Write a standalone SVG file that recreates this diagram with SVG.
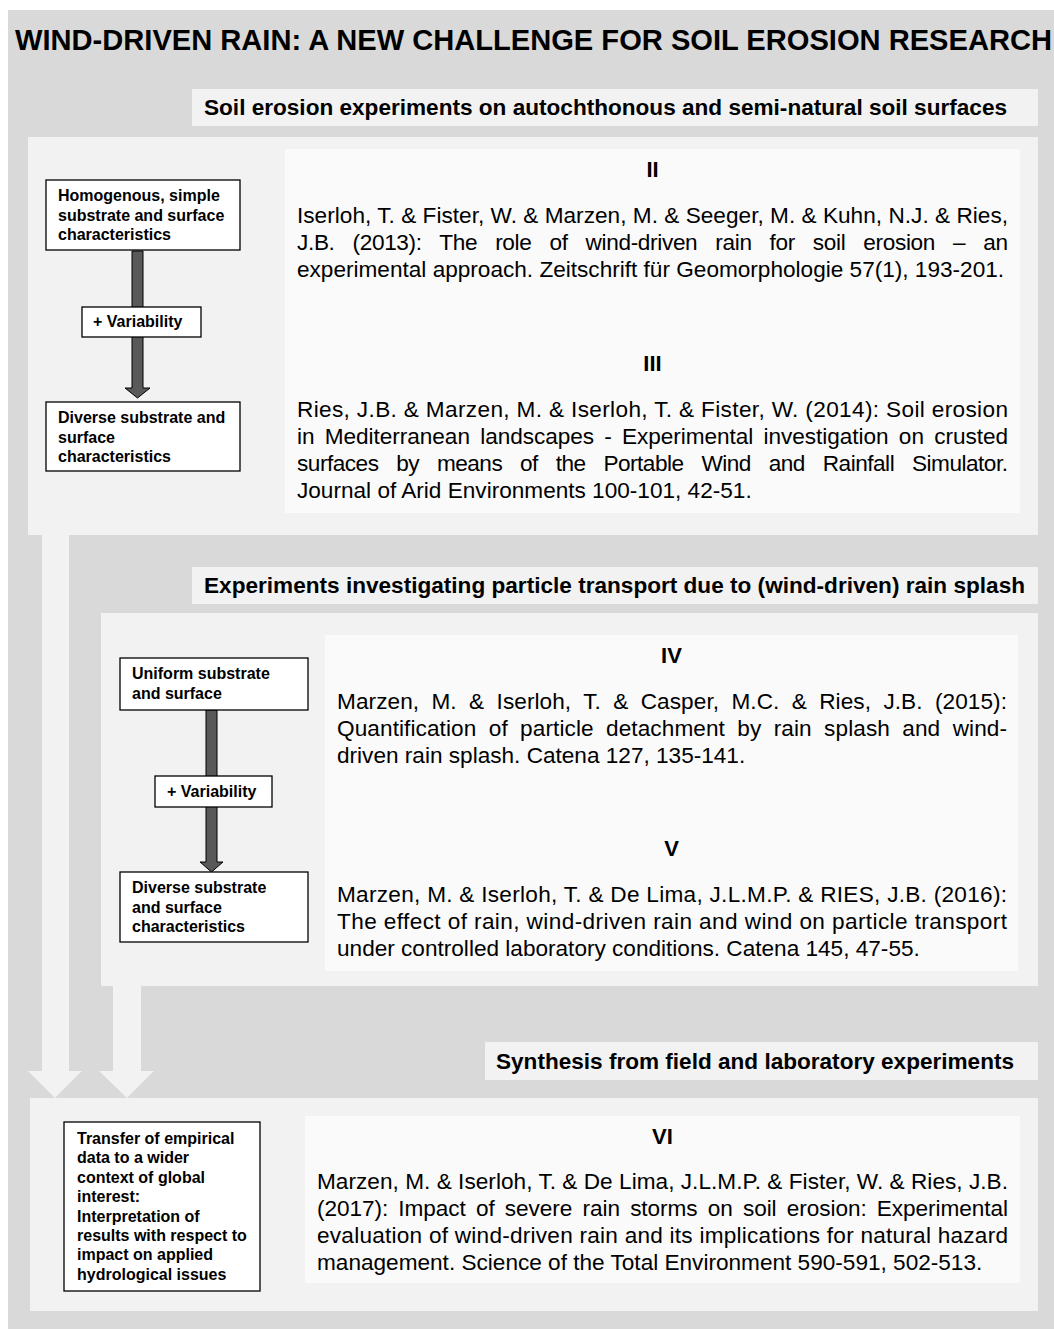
<svg xmlns="http://www.w3.org/2000/svg" width="1054" height="1329" viewBox="0 0 1054 1329">
<style>
.bg{fill:#d9d9d9}
.panel{fill:#f2f2f2}
.cite{fill:#fafafa}
.hdr{fill:#f2f2f2}
.box{fill:#ffffff;stroke:#000000;stroke-width:1.3}
.title{font-family:"Liberation Sans",Arial,sans-serif;font-weight:bold;font-size:29px;fill:#000}
.h{font-family:"Liberation Sans",Arial,sans-serif;font-weight:bold;font-size:22.5px;fill:#000}
.num{font-family:"Liberation Sans",Arial,sans-serif;font-weight:bold;font-size:22px;fill:#000;text-anchor:middle}
.c{font-family:"Liberation Sans",Arial,sans-serif;font-size:22.6px;fill:#000}
.b{font-family:"Liberation Sans",Arial,sans-serif;font-weight:bold;font-size:16px;fill:#000}
.dark{fill:#595959;stroke:#000;stroke-width:1}
.light{fill:#f2f2f2}
</style>
<rect class="bg" x="8" y="10" width="1046" height="1319"/>
<text class="title" x="15" y="50" textLength="1037" lengthAdjust="spacingAndGlyphs">WIND-DRIVEN RAIN: A NEW CHALLENGE FOR SOIL EROSION RESEARCH</text>

<g id="panel1">
<rect class="hdr" x="192" y="89" width="846" height="37"/>
<text class="h" x="204" y="115" textLength="803" lengthAdjust="spacingAndGlyphs">Soil erosion experiments on autochthonous and semi-natural soil surfaces</text>
<rect class="panel" x="28" y="137" width="1010" height="398"/>
</g>

<g id="panel2">
<rect class="hdr" x="192" y="567" width="846" height="37"/>
<text class="h" x="204" y="593" textLength="821" lengthAdjust="spacingAndGlyphs">Experiments investigating particle transport due to (wind-driven) rain splash</text>
<rect class="panel" x="101" y="613" width="937" height="373"/>
</g>

<g id="panel3">
<rect class="hdr" x="485" y="1042" width="553" height="38"/>
<text class="h" x="496" y="1069" textLength="518" lengthAdjust="spacingAndGlyphs">Synthesis from field and laboratory experiments</text>
<rect class="panel" x="30" y="1098" width="1008" height="213"/>
</g>

<g id="connectors">
<polygon class="light" points="42,535 69,535 69,1071 82,1071 55,1098 28,1071 42,1071"/>
<polygon class="light" points="113,985 141,985 141,1071 154,1071 127,1098 99,1071 113,1071"/>
<polygon class="dark" points="132,251 143,251 143,388 150,388 137.5,398 125,388 132,388"/>
<polygon class="dark" points="206,710 217,710 217,862 223,862 211.5,872 200,862 206,862"/>
</g>

<g id="citeII-III">
<rect class="cite" x="285" y="149" width="735" height="364"/>
<text class="num" x="652.5" y="177">II</text>
<text class="c" x="297" y="223" textLength="711" lengthAdjust="spacing">Iserloh, T. &amp; Fister, W. &amp; Marzen, M. &amp; Seeger, M. &amp; Kuhn, N.J. &amp; Ries,</text>
<text class="c" x="297" y="250" textLength="711" lengthAdjust="spacing" word-spacing="12">J.B. (2013): The role of wind-driven rain for soil erosion – an</text>
<text class="c" x="297" y="277">experimental approach. Zeitschrift für Geomorphologie 57(1), 193-201.</text>
<text class="num" x="652.5" y="371">III</text>
<text class="c" x="297" y="417" textLength="711" lengthAdjust="spacing">Ries, J.B. &amp; Marzen, M. &amp; Iserloh, T. &amp; Fister, W. (2014): Soil erosion</text>
<text class="c" x="297" y="444" textLength="711" lengthAdjust="spacing" word-spacing="4">in Mediterranean landscapes - Experimental investigation on crusted</text>
<text class="c" x="297" y="471" textLength="711" lengthAdjust="spacing" word-spacing="12">surfaces by means of the Portable Wind and Rainfall Simulator.</text>
<text class="c" x="297" y="498">Journal of Arid Environments 100-101, 42-51.</text>
</g>

<g id="citeIV-V">
<rect class="cite" x="325" y="635" width="693" height="336"/>
<text class="num" x="671.5" y="663">IV</text>
<text class="c" x="337" y="709" textLength="670" lengthAdjust="spacing" word-spacing="6">Marzen, M. &amp; Iserloh, T. &amp; Casper, M.C. &amp; Ries, J.B. (2015):</text>
<text class="c" x="337" y="736" textLength="670" lengthAdjust="spacing" word-spacing="6">Quantification of particle detachment by rain splash and wind-</text>
<text class="c" x="337" y="763">driven rain splash. Catena 127, 135-141.</text>
<text class="num" x="671.5" y="856">V</text>
<text class="c" x="337" y="902" textLength="670" lengthAdjust="spacing">Marzen, M. &amp; Iserloh, T. &amp; De Lima, J.L.M.P. &amp; RIES, J.B. (2016):</text>
<text class="c" x="337" y="929" textLength="670" lengthAdjust="spacing">The effect of rain, wind-driven rain and wind on particle transport</text>
<text class="c" x="337" y="956">under controlled laboratory conditions. Catena 145, 47-55.</text>
</g>

<g id="citeVI">
<rect class="cite" x="305" y="1116" width="715" height="167"/>
<text class="num" x="662.5" y="1144">VI</text>
<text class="c" x="317" y="1189" textLength="691" lengthAdjust="spacing">Marzen, M. &amp; Iserloh, T. &amp; De Lima, J.L.M.P. &amp; Fister, W. &amp; Ries, J.B.</text>
<text class="c" x="317" y="1216" textLength="691" lengthAdjust="spacing" word-spacing="4">(2017): Impact of severe rain storms on soil erosion: Experimental</text>
<text class="c" x="317" y="1243" textLength="691" lengthAdjust="spacing">evaluation of wind-driven rain and its implications for natural hazard</text>
<text class="c" x="317" y="1270">management. Science of the Total Environment 590-591, 502-513.</text>
</g>

<g id="boxHomogenous">
<rect class="box" x="46" y="180" width="194" height="70"/>
<text class="b" x="58" y="201">Homogenous, simple</text>
<text class="b" x="58" y="220.5">substrate and surface</text>
<text class="b" x="58" y="240">characteristics</text>
</g>
<g id="boxVariability1">
<rect class="box" x="82" y="307" width="119" height="30"/>
<text class="b" x="93" y="327">+ Variability</text>
</g>
<g id="boxDiverse1">
<rect class="box" x="46" y="402" width="194" height="69"/>
<text class="b" x="58" y="423">Diverse substrate and</text>
<text class="b" x="58" y="442.5">surface</text>
<text class="b" x="58" y="462">characteristics</text>
</g>

<g id="boxUniform">
<rect class="box" x="120" y="658" width="188" height="52"/>
<text class="b" x="132" y="679">Uniform substrate</text>
<text class="b" x="132" y="698.5">and surface</text>
</g>
<g id="boxVariability2">
<rect class="box" x="155" y="776" width="117" height="31"/>
<text class="b" x="167" y="797">+ Variability</text>
</g>
<g id="boxDiverse2">
<rect class="box" x="120" y="872" width="188" height="70"/>
<text class="b" x="132" y="893">Diverse substrate</text>
<text class="b" x="132" y="912.5">and surface</text>
<text class="b" x="132" y="932">characteristics</text>
</g>

<g id="boxTransfer">
<rect class="box" x="64" y="1122" width="196" height="169"/>
<text class="b" x="77" y="1144">Transfer of empirical</text>
<text class="b" x="77" y="1163.4">data to a wider</text>
<text class="b" x="77" y="1182.8">context of global</text>
<text class="b" x="77" y="1202.2">interest:</text>
<text class="b" x="77" y="1221.6">Interpretation of</text>
<text class="b" x="77" y="1241">results with respect to</text>
<text class="b" x="77" y="1260.4">impact on applied</text>
<text class="b" x="77" y="1279.8">hydrological issues</text>
</g>
</svg>
